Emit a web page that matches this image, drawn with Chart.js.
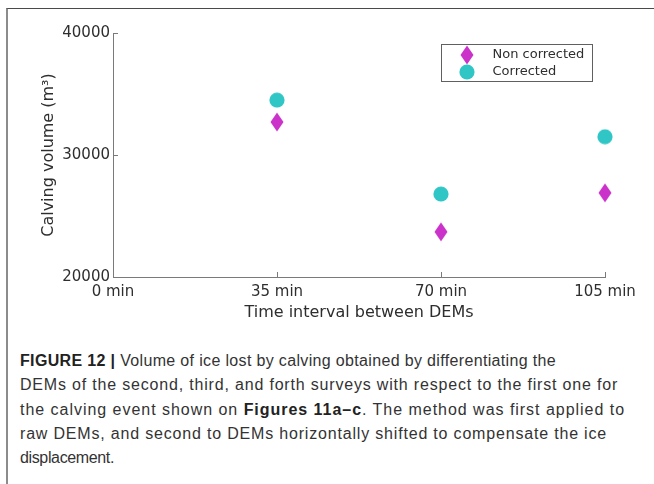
<!DOCTYPE html>
<html>
<head>
<meta charset="utf-8">
<script src="https://cdn.jsdelivr.net/npm/chart.js@4.4.1/dist/chart.umd.min.js"></script>
<style>
  html, body { margin: 0; padding: 0; background: #fff; }
  body { width: 654px; height: 484px; position: relative; overflow: hidden; }
  #frame {
    position: absolute; left: 6px; top: 8px; right: -2px; bottom: -2px;
    border-top: 1px solid #4a4a4a; border-left: 2px solid #8c8c8c;
  }
  #plot { position: absolute; left: 0; top: 0; }
  #caption {
    position: absolute; left: 20px; top: 349px;
    font-family: "Liberation Sans", Arial, sans-serif;
    font-size: 16px; line-height: 24.3px; color: #333;
    white-space: nowrap;
  }
  #caption .ln { display: inline-block; }
  #caption b { color: #222; }
</style>
</head>
<body>
<div id="frame"></div>
<canvas id="plot" width="654" height="330"></canvas>
<div id="caption">
  <span class="ln" data-w="536"><b>FIGURE 12 |</b> Volume of ice lost by calving obtained by differentiating the</span><br>
  <span class="ln" data-w="598">DEMs of the second, third, and forth surveys with respect to the first one for</span><br>
  <span class="ln" data-w="605">the calving event shown on <b>Figures 11a–c</b>. The method was first applied to</span><br>
  <span class="ln" data-w="587">raw DEMs, and second to DEMs horizontally shifted to compensate the ice</span><br>
  <span class="ln" data-w="94">displacement.</span>
</div>
<script>
// Time between DEM surveys (minutes) and calving volumes (m³)
const intervals = [35, 70, 105];
const nonCorrected = [32700, 23700, 26900];
const corrected = [34500, 26800, 31500];
const xTickValues = [0, 35, 70, 105];
const yTickValues = [20000, 30000, 40000];
const seriesNames = ['Non corrected', 'Corrected'];

const MAGENTA = 'rgb(202, 50, 202)';
const CYAN = 'rgb(48, 198, 198)';
const AXIS = '#7a7a7a';
const TEXT = '#2e2e2e';

// Spread each caption line to its set width
document.querySelectorAll('#caption .ln').forEach(el => {
  const target = +el.dataset.w;
  const natural = el.getBoundingClientRect().width;
  const n = el.textContent.length;
  el.style.letterSpacing = ((target - natural) / n).toFixed(3) + 'px';
});

// Marker images: a tall diamond and a filled circle
function diamondMarker(color) {
  const c = document.createElement('canvas');
  c.width = 14; c.height = 20;
  const g = c.getContext('2d');
  g.fillStyle = color;
  g.beginPath();
  g.moveTo(7, 0.5); g.lineTo(13.5, 10); g.lineTo(7, 19.5); g.lineTo(0.5, 10);
  g.closePath(); g.fill();
  return c;
}
function circleMarker(color) {
  const c = document.createElement('canvas');
  c.width = 16; c.height = 16;
  const g = c.getContext('2d');
  g.fillStyle = color;
  g.beginPath(); g.arc(8, 8, 7.6, 0, Math.PI * 2); g.fill();
  return c;
}

const toPoints = (ys) => intervals.map((x, i) => ({ x, y: ys[i] }));

// Inward tick marks on the left and bottom axes
const innerTicks = {
  id: 'innerTicks',
  afterDatasetsDraw(chart) {
    const { ctx, chartArea: a, scales: { x, y } } = chart;
    ctx.save();
    ctx.strokeStyle = AXIS;
    ctx.lineWidth = 1;
    ctx.beginPath();
    x.ticks.forEach(t => {
      const px = Math.round(x.getPixelForValue(t.value)) + 0.5;
      ctx.moveTo(px, a.bottom); ctx.lineTo(px, a.bottom - 5);
    });
    y.ticks.forEach(t => {
      const py = Math.round(y.getPixelForValue(t.value)) + 0.5;
      ctx.moveTo(a.left, py); ctx.lineTo(a.left + 5, py);
    });
    ctx.stroke();
    ctx.restore();
  }
};

// Boxed legend inside the upper right of the plot area
const boxLegend = {
  id: 'boxLegend',
  afterDraw(chart) {
    const { ctx, chartArea: a } = chart;
    const bx = a.right - 163.5, by = a.top + 11.5, bw = 151, bh = 37;
    ctx.save();
    ctx.fillStyle = '#fff';
    ctx.fillRect(bx, by, bw, bh);
    ctx.strokeStyle = '#606060';
    ctx.lineWidth = 1;
    ctx.strokeRect(bx, by, bw, bh);
    ctx.font = '13px "DejaVu Sans"';
    ctx.textBaseline = 'middle';
    ctx.fillStyle = TEXT;
    chart.data.datasets.forEach((ds, i) => {
      const cy = by + 10.5 + i * 17;
      const img = ds.pointStyle;
      ctx.drawImage(img, bx + 25.5 - img.width / 2, cy - img.height / 2);
      ctx.fillText(ds.label, bx + 51, cy);
    });
    ctx.restore();
  }
};

new Chart(document.getElementById('plot'), {
  type: 'scatter',
  data: {
    datasets: [
      { label: seriesNames[0], data: toPoints(nonCorrected), pointStyle: diamondMarker(MAGENTA), clip: false },
      { label: seriesNames[1], data: toPoints(corrected), pointStyle: circleMarker(CYAN), clip: false }
    ]
  },
  options: {
    responsive: false,
    animation: false,
    events: [],
    layout: { padding: { left: 39, right: 49, top: 33, bottom: 8 } },
    plugins: { legend: { display: false }, tooltip: { enabled: false } },
    scales: {
      x: {
        type: 'linear', position: 'bottom', min: 0, max: 105,
        afterBuildTicks: (s) => { s.ticks = xTickValues.map(v => ({ value: v })); },
        afterFit: (s) => { s.height = 45; },
        grid: { display: false, drawTicks: false },
        border: { display: true, color: AXIS, width: 1 },
        ticks: {
          padding: 6, color: TEXT, maxRotation: 0, autoSkip: false,
          font: { family: 'DejaVu Sans', size: 15 },
          callback: (v) => v + ' min'
        },
        title: {
          display: true, text: 'Time interval between DEMs', color: TEXT,
          font: { family: 'DejaVu Sans', size: 16 }, padding: 0
        }
      },
      y: {
        type: 'linear', position: 'left', min: 20000, max: 40000,
        afterBuildTicks: (s) => { s.ticks = yTickValues.map(v => ({ value: v })); },
        afterFit: (s) => { s.width = 74; },
        grid: { display: false, drawTicks: false },
        border: { display: true, color: AXIS, width: 1 },
        ticks: {
          padding: 3, color: TEXT, autoSkip: false,
          font: { family: 'DejaVu Sans', size: 15 },
          callback: (v) => String(v)
        },
        title: {
          display: true, text: 'Calving volume (m³)', color: TEXT,
          font: { family: 'DejaVu Sans', size: 16 }, padding: 0
        }
      }
    }
  },
  plugins: [innerTicks, boxLegend]
});
</script>
</body>
</html>
